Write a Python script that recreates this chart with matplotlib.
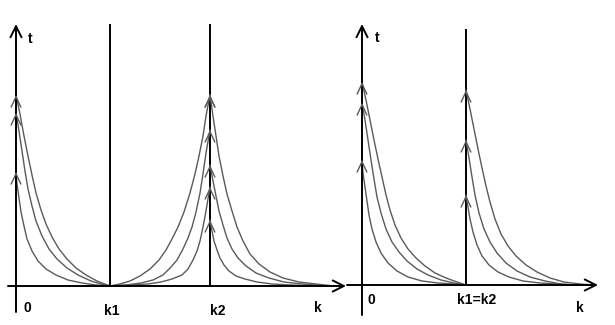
import matplotlib
matplotlib.use('Agg')
import matplotlib.pyplot as plt

# ---------------------------------------------------------
# values (k along the axis, t upwards, origin = axis crossing)

# left panel: k1 and k2
left_k1 = 94
left_k2 = 194

# curves leaving k=0, decaying to k1
l0_outer_k = [0, 4, 8, 12, 16, 20, 25, 30, 36, 43, 51, 60, 70, 81, 94]
l0_outer_t = [191, 172, 150, 130, 111, 93, 76, 62, 49, 37, 27, 18, 11, 5, 0]
l0_mid_k = [0, 3, 6, 9, 12, 16, 20, 26, 33, 41, 51, 62, 75, 85, 94]
l0_mid_t = [173, 155, 135, 115, 97, 80, 65, 50, 37, 27, 18, 11, 5, 2, 0]
l0_inner_k = [0, 1, 3, 5, 8, 11, 16, 22, 30, 40, 52, 66, 80, 94]
l0_inner_t = [114, 102, 88, 74, 60, 47, 35, 25, 17, 11, 6, 3, 1, 0]

# curves rising from k1 to k2 (left side of k2)
l2_left_outer_k = [94, 104, 114, 124, 134, 143, 150, 156, 162, 168, 174, 179, 183, 187, 190, 194]
l2_left_outer_t = [0, 2, 5, 10, 17, 26, 36, 47, 59, 74, 93, 112, 130, 150, 170, 191]
l2_left_mid_k = [94, 110, 125, 137, 147, 155, 161, 167, 172, 176, 180, 184, 187, 190, 194]
l2_left_mid_t = [0, 1, 3, 6, 11, 19, 26, 37, 48, 59, 74, 93, 112, 133, 156]
l2_left_inner_k = [94, 115, 132, 145, 156, 166, 172, 177, 181, 184, 187, 190, 194]
l2_left_inner_t = [0, 1, 2, 4, 7, 11, 17, 26, 35, 45, 59, 75, 99]

# curves falling from k2 (right side of k2)
l2_right_outer_k = [194, 197, 200, 203, 207, 211, 216, 221, 227, 234, 243, 254, 267, 283, 300, 318]
l2_right_outer_t = [191, 170, 150, 130, 110, 92, 75, 59, 45, 32, 22, 14, 8, 4, 2, 0]
l2_right_mid_k = [194, 197, 200, 203, 207, 211, 216, 222, 230, 240, 253, 268, 286, 315]
l2_right_mid_t = [121, 105, 90, 75, 61, 48, 37, 28, 20, 13, 8, 4, 2, 0]
l2_right_inner_k = [194, 196, 198, 201, 204, 208, 213, 220, 229, 241, 256, 275, 300]
l2_right_inner_t = [66, 55, 45, 36, 28, 21, 15, 10, 7, 4, 2, 1, 0]

# right panel: k1 = k2
right_k12 = 104

r0_outer_k = [0, 4, 8, 12, 16, 20, 24, 28, 33, 39, 46, 54, 63, 73, 84, 95, 104]
r0_outer_t = [203, 185, 165, 145, 126, 108, 90, 75, 60, 47, 36, 27, 19, 12, 7, 3, 0]
r0_mid_k = [0, 3, 6, 9, 12, 15, 19, 24, 30, 37, 45, 55, 66, 79, 92, 104]
r0_mid_t = [182, 165, 145, 125, 106, 88, 72, 56, 43, 33, 24, 16, 10, 5, 2, 0]
r0_inner_k = [0, 1, 3, 5, 7, 10, 14, 19, 26, 35, 46, 60, 76, 92, 104]
r0_inner_t = [125, 112, 98, 84, 70, 56, 43, 32, 22, 14, 8, 4, 2, 1, 0]

r12_outer_k = [104, 108, 112, 116, 120, 124, 128, 133, 139, 146, 154, 164, 175, 188, 202, 218, 232]
r12_outer_t = [195, 176, 156, 136, 117, 99, 83, 66, 51, 39, 29, 20, 13, 7, 3, 1, 0]
r12_mid_k = [104, 107, 110, 113, 117, 122, 128, 135, 144, 155, 168, 183, 199, 215]
r12_mid_t = [145, 127, 108, 90, 72, 56, 43, 32, 22, 14, 8, 4, 1, 0]
r12_inner_k = [104, 106, 108, 111, 115, 120, 127, 136, 147, 161, 178, 196, 212]
r12_inner_t = [90, 78, 66, 53, 40, 29, 20, 13, 8, 4, 2, 1, 0]

# ---------------------------------------------------------

AXIS_COLOR = 'black'
CURVE_COLOR = '#5a5a5a'
label_font = dict(fontsize=10, fontweight='bold', family=['Liberation Sans', 'DejaVu Sans'])


def arrow_line(ax, start, end, color=AXIS_COLOR, lw=1.4):
    ax.annotate('', xy=end, xytext=start,
                arrowprops=dict(arrowstyle='->, head_length=0.8, head_width=0.4',
                                color=color, lw=lw, shrinkA=0, shrinkB=0))


def curve(ax, k, t):
    ax.plot(k, t, color=CURVE_COLOR, linewidth=1.0, solid_joinstyle='round')
    # open chevron at the top of the curve
    k_top = k[0] if t[0] > t[-1] else k[-1]
    ax.annotate('', xy=(k_top, max(t)), xytext=(k_top, max(t) - 2),
                arrowprops=dict(arrowstyle='->, head_length=0.75, head_width=0.35',
                                color=CURVE_COLOR, lw=1.0, shrinkA=0, shrinkB=0))


def setup_axes(fig, rect, xlim, ylim):
    ax = fig.add_axes(rect)
    ax.set_xlim(xlim)
    ax.set_ylim(ylim)
    ax.axis('off')
    ax.patch.set_alpha(0)
    return ax


fig = plt.figure(figsize=(6.15, 3.25), dpi=100)
fig.patch.set_facecolor('white')

# ---- left panel
ax = setup_axes(fig, [0, 0, 350 / 615, 1], (-16, 334), (-39, 286))
arrow_line(ax, (-8, 0), (330, 0))
arrow_line(ax, (0, -26), (0, 262))
ax.plot([left_k1, left_k1], [0, 261], color=AXIS_COLOR, linewidth=1.4)
ax.plot([left_k2, left_k2], [0, 261], color=AXIS_COLOR, linewidth=1.4)

for k, t in [(l0_outer_k, l0_outer_t), (l0_mid_k, l0_mid_t), (l0_inner_k, l0_inner_t),
             (l2_left_outer_k, l2_left_outer_t), (l2_left_mid_k, l2_left_mid_t),
             (l2_left_inner_k, l2_left_inner_t),
             (l2_right_outer_k, l2_right_outer_t), (l2_right_mid_k, l2_right_mid_t),
             (l2_right_inner_k, l2_right_inner_t)]:
    curve(ax, k, t)

ax.text(12, 247, 't', ha='left', va='center', **label_font)
ax.text(8, -22, '0', ha='left', va='center', **label_font)
ax.text(left_k1 + 2, -25, 'k1', ha='center', va='center', **label_font)
ax.text(left_k2 + 8, -25, 'k2', ha='center', va='center', **label_font)
ax.text(302, -22, 'k', ha='center', va='center', **label_font)

# ---- right panel
ax = setup_axes(fig, [340 / 615, 0, 275 / 615, 1], (-22, 253), (-40, 285))
arrow_line(ax, (-15, 0), (236, 0))
arrow_line(ax, (0, -30), (0, 261))
ax.plot([right_k12, right_k12], [0, 255], color=AXIS_COLOR, linewidth=1.4)

for k, t in [(r0_outer_k, r0_outer_t), (r0_mid_k, r0_mid_t), (r0_inner_k, r0_inner_t),
             (r12_outer_k, r12_outer_t), (r12_mid_k, r12_mid_t), (r12_inner_k, r12_inner_t)]:
    curve(ax, k, t)

ax.text(13, 247, 't', ha='left', va='center', **label_font)
ax.text(5, -15, '0', ha='left', va='center', **label_font)
ax.text(right_k12 + 11, -15, 'k1=k2', ha='center', va='center', **label_font)
ax.text(218, -23, 'k', ha='center', va='center', **label_font)

fig.savefig('out.png', dpi=100, facecolor='white')
